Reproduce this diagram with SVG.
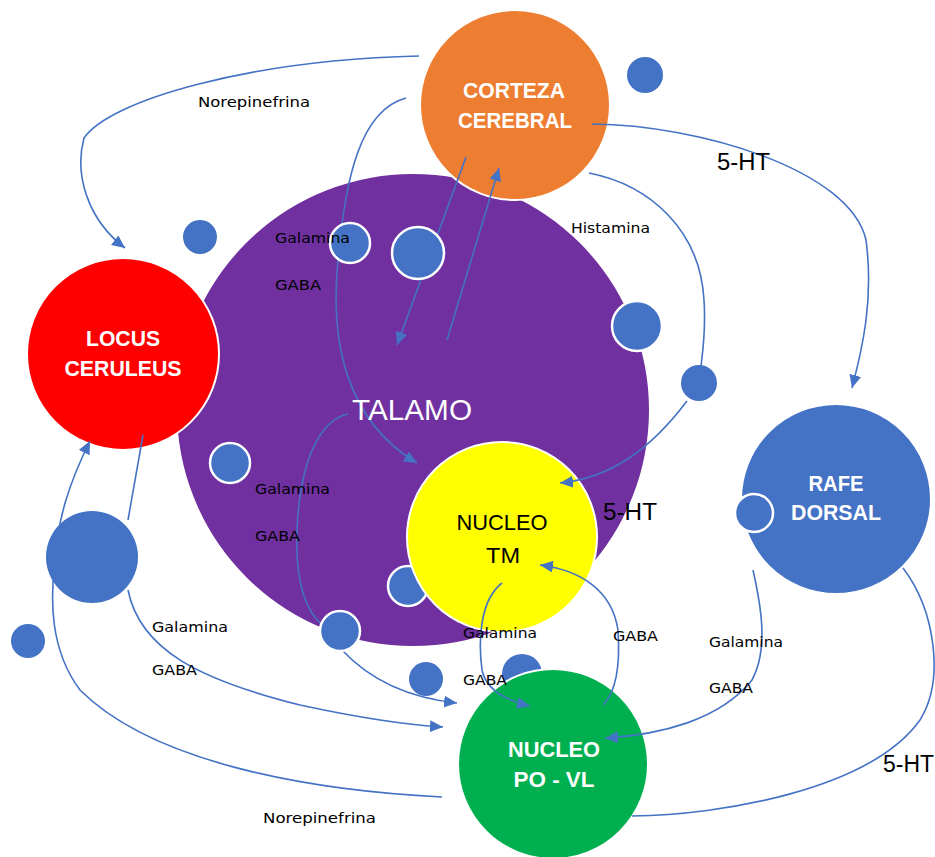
<svg xmlns="http://www.w3.org/2000/svg" width="935" height="857" viewBox="0 0 935 857">
<defs>
<marker id="arr" markerUnits="userSpaceOnUse" markerWidth="14" markerHeight="12" refX="13" refY="6" orient="auto">
<path d="M0,0 L13,6 L0,12 z" fill="#4472C4"/>
</marker>
<style>
.big{stroke:#fff;stroke-width:2}
.dot{fill:#4472C4}
.dotw{fill:#4472C4;stroke:#fff;stroke-width:2.5}
.con{fill:none;stroke:#4472C4;stroke-width:1.6}
.arrow{marker-end:url(#arr)}
.lab{font-family:"DejaVu Sans","Liberation Sans",sans-serif;font-size:14px;fill:#000}
.ht{font-family:"Liberation Sans",Arial,sans-serif;font-size:23px;fill:#000}
.nw{font-family:"Liberation Sans",Arial,sans-serif;font-size:22px;font-weight:bold;fill:#fff;text-anchor:middle}
.nb{font-family:"Liberation Sans",Arial,sans-serif;font-size:22px;fill:#000;text-anchor:middle}
</style>
</defs>
<rect width="935" height="857" fill="#fff"/>

<g id="talamo"><circle class="big" cx="413" cy="410" r="237" fill="#7030A0"/></g>
<g id="corteza"><circle class="big" cx="515" cy="105" r="95" fill="#ED7D31"/></g>
<g id="locus"><circle class="big" cx="123" cy="354" r="96" fill="#FF0000"/></g>
<g id="rafe"><circle class="big" cx="836" cy="499" r="95" fill="#4472C4"/></g>
<g id="syn-back">
<circle class="dotw" cx="408" cy="586" r="20"/>
<circle class="dot" cx="522" cy="674" r="20"/>
</g>
<g id="nucleo-tm"><circle class="big" cx="502" cy="537" r="95" fill="#FFFF00"/></g>
<g id="nucleo-povl"><circle class="big" cx="553" cy="764" r="95" fill="#00B050"/></g>

<g id="connectors">
<path class="con arrow" d="M419,56 C250,60 110,100 84,138 C74,175 88,220 125,248"/>
<path class="con arrow" d="M406,98 C360,110 345,180 338,260 C330,340 345,420 417,463"/>
<path class="con arrow" d="M466,157 L397,345"/>
<path class="con arrow" d="M447,340 L499,168"/>
<path class="con" d="M589,173 C650,185 700,230 704,300 C706,330 703,350 701,366"/>
<path class="con arrow" d="M687,401 C650,450 610,478 560,483"/>
<path class="con arrow" d="M592,124 C700,125 850,170 866,240 C874,300 862,350 852,388"/>
<path class="con" d="M903,568 C935,610 945,680 920,720 C870,790 720,815 632,816"/>
<path class="con arrow" d="M753,570 C762,610 768,650 752,680 C720,720 660,735 605,738"/>
<path class="con arrow" d="M442,797 C300,790 150,760 80,690 C50,650 50,600 55,560 C58,520 68,485 90,441"/>
<path class="con" d="M143,435 L128,520"/>
<path class="con arrow" d="M128,590 C140,650 200,680 300,705 C360,718 410,725 443,727"/>
<path class="con arrow" d="M342,650 C370,680 410,698 457,703"/>
<path class="con" d="M348,414 C320,420 300,460 297,530 C295,580 305,610 322,625"/>
<path class="con arrow" d="M502,583 C480,600 478,640 482,670 C486,690 505,700 530,706"/>
<path class="con arrow" d="M603,705 C618,690 620,660 618,630 C612,590 580,570 540,565"/>
</g>

<g id="syn-front">
<circle class="dot" cx="645" cy="75" r="18"/>
<circle class="dot" cx="200" cy="237" r="17"/>
<circle class="dotw" cx="350" cy="243" r="20"/>
<circle class="dotw" cx="418" cy="253" r="26"/>
<circle class="dotw" cx="637" cy="326" r="25"/>
<circle class="dot" cx="699" cy="383" r="18"/>
<circle class="dotw" cx="230" cy="463" r="20"/>
<circle class="dot" cx="92" cy="557" r="46"/>
<circle class="dot" cx="28" cy="641" r="17"/>
<circle class="dotw" cx="340" cy="631" r="20"/>
<circle class="dot" cx="426" cy="679" r="17"/>
<circle class="dotw" cx="754" cy="513" r="19"/>
</g>

<g id="node-labels">
<text class="nw" x="514" y="98" textLength="102" lengthAdjust="spacingAndGlyphs">CORTEZA</text>
<text class="nw" x="515" y="128" textLength="114" lengthAdjust="spacingAndGlyphs">CEREBRAL</text>
<text class="nw" x="123" y="346" textLength="74" lengthAdjust="spacingAndGlyphs">LOCUS</text>
<text class="nw" x="123" y="376" textLength="117" lengthAdjust="spacingAndGlyphs">CERULEUS</text>
<text class="nw" x="836" y="491" textLength="55" lengthAdjust="spacingAndGlyphs">RAFE</text>
<text class="nw" x="836" y="520" textLength="90" lengthAdjust="spacingAndGlyphs">DORSAL</text>
<text class="nb" x="502" y="530" textLength="91" lengthAdjust="spacingAndGlyphs">NUCLEO</text>
<text class="nb" x="503" y="563" textLength="34" lengthAdjust="spacingAndGlyphs">TM</text>
<text class="nw" x="554" y="757" textLength="92" lengthAdjust="spacingAndGlyphs">NUCLEO</text>
<text class="nw" x="554" y="787" textLength="81" lengthAdjust="spacingAndGlyphs">PO - VL</text>
<text x="352" y="420" textLength="120" lengthAdjust="spacingAndGlyphs" style="font-family:'Liberation Sans',Arial,sans-serif;font-size:29px;fill:#fff">TALAMO</text>
</g>

<g id="connector-labels">
<text class="lab" x="198" y="107" textLength="112" lengthAdjust="spacingAndGlyphs">Norepinefrina</text>
<text class="lab" x="275" y="243" textLength="75" lengthAdjust="spacingAndGlyphs">Galamina</text>
<text class="lab" x="275" y="290" textLength="46" lengthAdjust="spacingAndGlyphs">GABA</text>
<text class="lab" x="571" y="233" textLength="79" lengthAdjust="spacingAndGlyphs">Histamina</text>
<text class="lab" x="255" y="494" textLength="75" lengthAdjust="spacingAndGlyphs">Galamina</text>
<text class="lab" x="255" y="541" textLength="45" lengthAdjust="spacingAndGlyphs">GABA</text>
<text class="lab" x="152" y="632" textLength="76" lengthAdjust="spacingAndGlyphs">Galamina</text>
<text class="lab" x="152" y="675" textLength="45" lengthAdjust="spacingAndGlyphs">GABA</text>
<text class="lab" x="263" y="823" textLength="113" lengthAdjust="spacingAndGlyphs">Norepinefrina</text>
<text class="lab" x="463" y="638" textLength="74" lengthAdjust="spacingAndGlyphs">Galamina</text>
<text class="lab" x="463" y="685" textLength="44" lengthAdjust="spacingAndGlyphs">GABA</text>
<text class="lab" x="613" y="641" textLength="45" lengthAdjust="spacingAndGlyphs">GABA</text>
<text class="lab" x="709" y="647" textLength="74" lengthAdjust="spacingAndGlyphs">Galamina</text>
<text class="lab" x="709" y="693" textLength="44" lengthAdjust="spacingAndGlyphs">GABA</text>
<text class="ht" x="717" y="170" textLength="53" lengthAdjust="spacingAndGlyphs">5-HT</text>
<text class="ht" x="603" y="520" textLength="54" lengthAdjust="spacingAndGlyphs">5-HT</text>
<text class="ht" x="883" y="772" textLength="51" lengthAdjust="spacingAndGlyphs">5-HT</text>
</g>
</svg>
